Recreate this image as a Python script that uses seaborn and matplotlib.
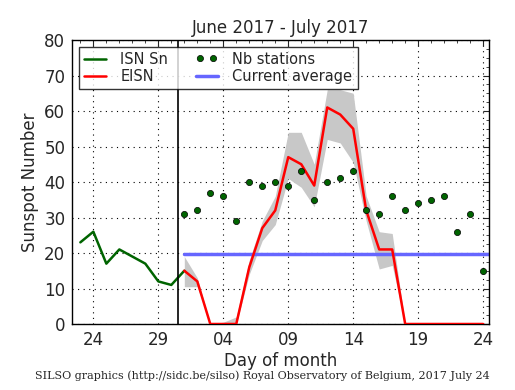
import matplotlib
matplotlib.use("Agg")
import matplotlib.pyplot as plt
import matplotlib.dates as mdates
from matplotlib.ticker import MultipleLocator
import seaborn as sns
import pandas as pd
import numpy as np

# ---- data ----
isn_dates = ["2017-06-23", "2017-06-24", "2017-06-25", "2017-06-26", "2017-06-27",
             "2017-06-28", "2017-06-29", "2017-06-30", "2017-07-01"]
isn_values = [23, 26, 17, 21, 19, 17, 12, 11, 15]

eisn_dates = ["2017-07-%02d" % d for d in range(1, 25)]
eisn_values = [15, 12, 0, 0, 0, 16, 27, 32, 47, 45, 39, 61, 59, 55, 32, 21, 21, 0, 0, 0, 0, 0, 0, 0]
eisn_low = [10.5, 10.5, 0, 0, 0, 14, 23.5, 28, 41, 38.5, 33, 52, 51, 45.5, 29, 15.5, 16.5, 0, 0, 0, 0, 0, 0, 0]
eisn_high = [19, 13, 0, 0.5, 2, 18, 29, 36, 54, 54, 45, 66, 66, 65, 36, 26, 25.5, 0, 0, 0, 0, 0, 0, 0]
nb_stations = [31, 32, 37, 36, 29, 40, 39, 40, 39, 43, 35, 40, 41, 43, 32, 31, 36, 32, 34, 35, 36, 26, 31, 15]

avg_dates = ["2017-07-01", "2017-07-26"]
avg_values = [19.7, 19.7]

tick_dates = ["2017-06-24", "2017-06-29", "2017-07-04", "2017-07-09", "2017-07-14", "2017-07-19", "2017-07-24"]
tick_labels = ["24", "29", "04", "09", "14", "19", "24"]
title = "June 2017 - July 2017"
footer = "SILSO graphics (http://sidc.be/silso) Royal Observatory of Belgium, 2017 July 24"

isn_df = pd.DataFrame({"date": pd.to_datetime(isn_dates), "value": isn_values})
eisn_df = pd.DataFrame({"date": pd.to_datetime(eisn_dates), "value": eisn_values,
                        "low": eisn_low, "high": eisn_high, "nb": nb_stations})
avg_df = pd.DataFrame({"date": pd.to_datetime(avg_dates), "value": avg_values})

sns.set_style("white")
plt.rcParams.update({
    "font.family": ["DejaVu Sans"],
    "xtick.direction": "in", "ytick.direction": "in",
    "xtick.top": True, "ytick.right": True,
    "xtick.major.size": 4, "ytick.major.size": 4,
    "xtick.minor.size": 2, "ytick.minor.size": 2,
    "xtick.minor.visible": True, "ytick.minor.visible": True,
    "axes.edgecolor": "black", "axes.linewidth": 1.0,
})

fig = plt.figure(figsize=(5.15, 3.9), dpi=100)
ax = fig.add_axes([72.3 / 515, 1 - 324 / 390, (489 - 72.3) / 515, (324 - 40) / 390])

ax.fill_between(eisn_df["date"], eisn_df["low"], eisn_df["high"], color="#c8c8c8", linewidth=0, zorder=1)
sns.lineplot(data=isn_df, x="date", y="value", ax=ax, color="#006400", linewidth=1.8, label="ISN Sn", zorder=3)
sns.lineplot(data=eisn_df, x="date", y="value", ax=ax, color="red", linewidth=1.8, label="EISN", zorder=3)
sns.scatterplot(data=eisn_df, x="date", y="nb", ax=ax, color="#006400", edgecolor="black",
                linewidth=0.5, s=20, label="Nb stations", zorder=4)
sns.lineplot(data=avg_df, x="date", y="value", ax=ax, color="#6666ff", linewidth=2.5,
             label="Current average", zorder=2)
ax.axvline(pd.Timestamp("2017-06-30 12:00"), color="black", linewidth=1.2, zorder=3)

x0 = pd.Timestamp("2017-06-24")
ax.set_xlim(x0 - pd.Timedelta(days=1.62), x0 + pd.Timedelta(days=30.45))
ax.set_ylim(0, 80)
ax.set_xticks(pd.to_datetime(tick_dates))
ax.set_xticklabels(tick_labels)
ax.xaxis.set_minor_locator(mdates.DayLocator())
ax.yaxis.set_major_locator(MultipleLocator(10))
ax.yaxis.set_minor_locator(MultipleLocator(2.5))
ax.tick_params(labelsize=12, pad=5)
ax.grid(True, which="major", color="black", linestyle=(0, (1, 4)), linewidth=0.8)

ax.set_xlabel("Day of month", fontsize=12, labelpad=2)
ax.set_ylabel("Sunspot Number", fontsize=12)
ax.set_title(title, fontsize=12, pad=5)

h, l = ax.get_legend_handles_labels()
leg = ax.legend(h, l, ncol=2, loc="upper left",
                fontsize=10.5, frameon=True, fancybox=False, edgecolor="black",
                borderaxespad=0.45, handlelength=1.5, handletextpad=1.0, columnspacing=1.9,
                scatterpoints=2, scatteryoffsets=[0.5], labelspacing=0.15, borderpad=0.35)
leg.get_frame().set_linewidth(1.0)

fig.text(0.51, 0.022, footer, ha="center", va="bottom", fontsize=8, family="DejaVu Serif")

fig.savefig("out.png", dpi=100)
